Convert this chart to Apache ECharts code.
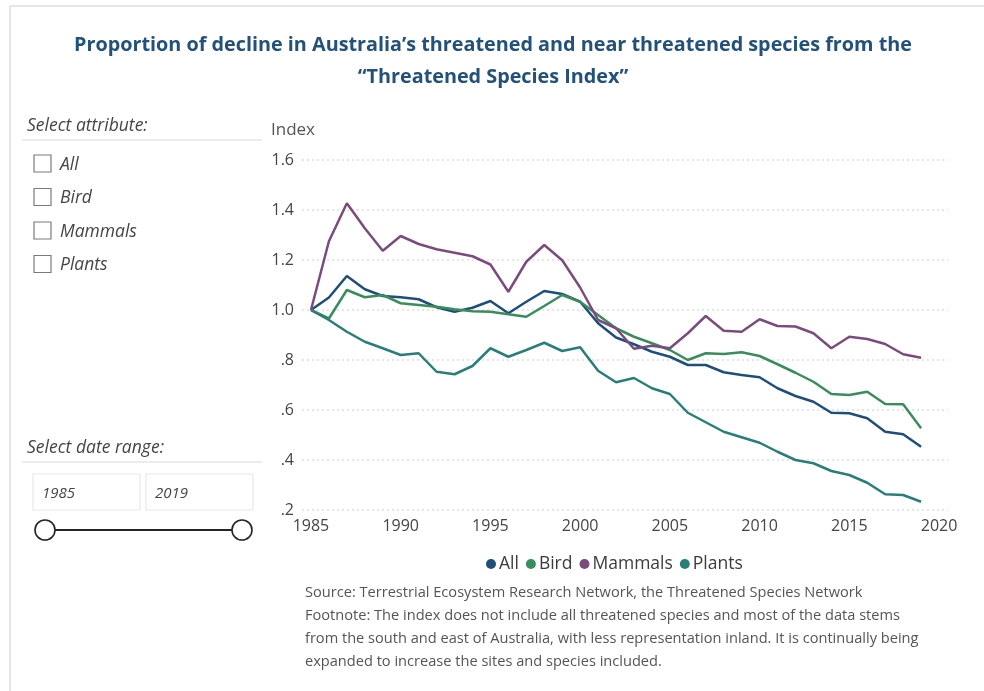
<!DOCTYPE html>
<html>
<head>
<meta charset="utf-8">
<script src="https://cdn.jsdelivr.net/npm/echarts@6/dist/echarts.min.js"></script>
<style>
  html, body { margin: 0; padding: 0; background: #ffffff; }
  #chart { width: 984px; height: 691px; }
</style>
</head>
<body>
<div id="chart"></div>
<script>
// Years on the horizontal axis (2020 is an empty slot at the end)
const years = ['1985','1986','1987','1988','1989','1990','1991','1992','1993','1994',
  '1995','1996','1997','1998','1999','2000','2001','2002','2003','2004',
  '2005','2006','2007','2008','2009','2010','2011','2012','2013','2014',
  '2015','2016','2017','2018','2019','2020'];

// Threatened Species Index per group, 1985–2019
const allSpecies = [1.00,1.05,1.136,1.083,1.056,1.051,1.043,1.011,0.993,1.009,
  1.036,0.987,1.033,1.076,1.064,1.033,0.947,0.89,0.863,0.833,
  0.813,0.78,0.78,0.751,0.74,0.731,0.687,0.656,0.633,0.589,
  0.587,0.567,0.513,0.503,0.453];
const bird = [1.00,0.966,1.08,1.051,1.06,1.027,1.02,1.013,1.003,0.995,
  0.993,0.983,0.973,1.016,1.06,1.033,0.98,0.927,0.893,0.867,
  0.84,0.8,0.827,0.824,0.831,0.816,0.783,0.749,0.713,0.664,
  0.66,0.673,0.624,0.623,0.527];
const mammals = [1.00,1.275,1.427,1.327,1.237,1.296,1.264,1.243,1.229,1.215,
  1.182,1.073,1.193,1.26,1.199,1.09,0.96,0.927,0.845,0.857,
  0.847,0.907,0.976,0.917,0.913,0.963,0.936,0.934,0.907,0.847,
  0.893,0.884,0.864,0.823,0.809];
const plants = [1.00,0.96,0.913,0.873,0.847,0.82,0.827,0.753,0.743,0.776,
  0.847,0.813,0.84,0.869,0.836,0.851,0.757,0.711,0.728,0.687,
  0.664,0.589,0.551,0.513,0.491,0.469,0.433,0.4,0.387,0.356,
  0.34,0.309,0.263,0.26,0.233];

const seriesNames = ['All', 'Bird', 'Mammals', 'Plants'];
const seriesColors = ['#1f4e79', '#3a8c5c', '#7a4c7e', '#2a7e78'];
const seriesData = [allSpecies, bird, mammals, plants];

const attributeOptions = ['All', 'Bird', 'Mammals', 'Plants'];
const dateRange = ['1985', '2019'];

const titleLines = [
  'Proportion of decline in Australia’s threatened and near threatened species from the',
  '“Threatened Species Index”'
];

const footnoteLines = [
  'Source: Terrestrial Ecosystem Research Network, the Threatened Species Network',
  'Footnote: The index does not include all threatened species and most of the data stems',
  'from the south and east of Australia, with less representation inland. It is continually being',
  'expanded to increase the sites and species included.'
];

const FONT = '"Open Sans", "Noto Sans", sans-serif';

// Frame, centred title, slicer panel on the left, axis name and footnote
const graphics = [];
graphics.push({ type: 'line', shape: { x1: 10, y1: 6, x2: 984, y2: 6 }, style: { stroke: '#dcdcdc', lineWidth: 1.5 }, silent: true });
graphics.push({ type: 'line', shape: { x1: 10, y1: 6, x2: 10, y2: 691 }, style: { stroke: '#dcdcdc', lineWidth: 1.5 }, silent: true });

titleLines.forEach((line, i) => {
  graphics.push({ type: 'text', x: 493, y: 45 + i * 32, style: { text: line, font: 'bold 19.8px ' + FONT, fill: '#23517a', align: 'center', verticalAlign: 'middle' } });
});

graphics.push({ type: 'text', x: 27, y: 126, style: { text: 'Select attribute:', font: 'italic 17.5px ' + FONT, fill: '#454545', verticalAlign: 'middle' } });
graphics.push({ type: 'line', shape: { x1: 22, y1: 140, x2: 262, y2: 140 }, style: { stroke: '#e6e6e6', lineWidth: 1.5 } });
attributeOptions.forEach((name, i) => {
  const cy = 164 + i * 33.5;
  graphics.push({ type: 'rect', shape: { x: 34, y: cy - 9, width: 17, height: 17 }, style: { fill: '#fff', stroke: '#7a7a7a', lineWidth: 1.2 } });
  graphics.push({ type: 'text', x: 60, y: cy + 1, style: { text: name, font: 'italic 17.5px ' + FONT, fill: '#454545', verticalAlign: 'middle' } });
});

graphics.push({ type: 'text', x: 27, y: 448, style: { text: 'Select date range:', font: 'italic 17.5px ' + FONT, fill: '#454545', verticalAlign: 'middle' } });
graphics.push({ type: 'line', shape: { x1: 22, y1: 462, x2: 262, y2: 462 }, style: { stroke: '#e6e6e6', lineWidth: 1.5 } });
dateRange.forEach((txt, i) => {
  const bx = 33 + i * 113;
  graphics.push({ type: 'rect', shape: { x: bx, y: 474, width: 107, height: 36 }, style: { fill: '#fff', stroke: '#e8e8e8', lineWidth: 1.2 } });
  graphics.push({ type: 'text', x: bx + 9, y: 494, style: { text: txt, font: 'italic 15px ' + FONT, fill: '#454545', verticalAlign: 'middle' } });
});
graphics.push({ type: 'line', shape: { x1: 55, y1: 530, x2: 232, y2: 530 }, style: { stroke: '#252525', lineWidth: 2 } });
graphics.push({ type: 'circle', shape: { cx: 45, cy: 530, r: 10 }, style: { fill: '#fff', stroke: '#252525', lineWidth: 1.6 } });
graphics.push({ type: 'circle', shape: { cx: 242, cy: 530, r: 10 }, style: { fill: '#fff', stroke: '#252525', lineWidth: 1.6 } });

graphics.push({ type: 'text', x: 271, y: 130, style: { text: 'Index', font: '17px ' + FONT, fill: '#555555', verticalAlign: 'middle' } });

footnoteLines.forEach((line, i) => {
  graphics.push({ type: 'text', x: 305, y: 593 + i * 23, style: { text: line, font: '14.6px ' + FONT, fill: '#555555', verticalAlign: 'middle' } });
});

const chart = echarts.init(document.getElementById('chart'), null, { renderer: 'canvas' });

chart.setOption({
  backgroundColor: '#ffffff',
  animation: false,
  legend: {
    data: seriesNames,
    left: 481,
    top: 550,
    icon: 'circle',
    itemWidth: 10,
    itemHeight: 10,
    itemGap: 7,
    textStyle: { fontFamily: FONT, fontSize: 17.5, color: '#3b3b3b', padding: [0, 0, 0, -2] }
  },
  grid: { left: 302, right: 36, top: 160, bottom: 181 },
  xAxis: {
    type: 'category',
    data: years,
    boundaryGap: true,
    axisLine: { show: false },
    axisTick: { show: false },
    axisLabel: { interval: 4, margin: 8, fontFamily: FONT, fontSize: 16, color: '#454545' }
  },
  yAxis: {
    type: 'value',
    min: 0.2,
    max: 1.6,
    interval: 0.2,
    axisLine: { show: false },
    axisTick: { show: false },
    axisLabel: {
      margin: 8,
      fontFamily: FONT, fontSize: 16, color: '#454545',
      formatter: v => {
        const s = v.toFixed(1);
        return v < 1 ? s.replace(/^0/, '') : s;
      }
    },
    splitLine: { lineStyle: { color: '#dedede', type: [2, 3], width: 1.5 } }
  },
  series: seriesNames.map((name, i) => ({
    name,
    type: 'line',
    data: seriesData[i],
    showSymbol: false,
    symbol: 'circle',
    color: seriesColors[i],
    lineStyle: { width: 2.5, color: seriesColors[i] },
    z: i === 3 ? 3 : 2
  })),
  graphic: graphics
});
</script>
</body>
</html>
